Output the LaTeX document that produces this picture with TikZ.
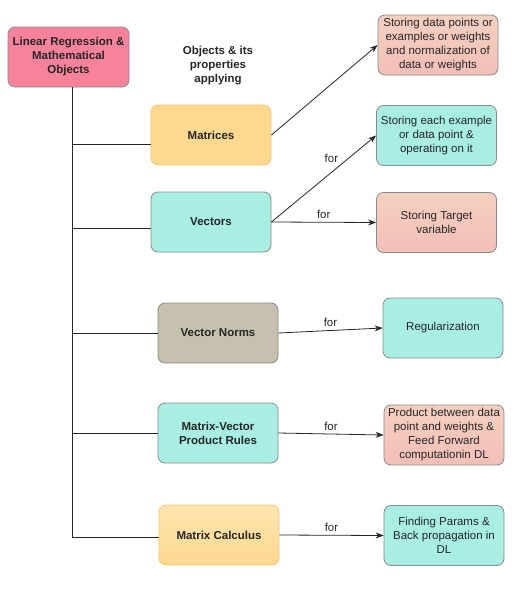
\documentclass[tikz,border=0pt]{standalone}
\usepackage{fontspec}
\setmainfont{Liberation Sans}
\usetikzlibrary{arrows.meta}
\definecolor{rosa}{HTML}{F7829B}
\definecolor{giallo}{HTML}{FDD98F}
\definecolor{ciano}{HTML}{A8EEE2}
\definecolor{pesca}{HTML}{F5D0BF}
\definecolor{pescabasso}{HTML}{F3BFB8}
\definecolor{grigio}{HTML}{C6C1AE}
\definecolor{bordo}{HTML}{8A8A8A}
\begin{document}
\begin{tikzpicture}[x=1pt,y=-1pt,
    box/.style={draw=bordo, line width=0.8pt, rounded corners=7pt, minimum width=120pt,
      minimum height=60pt, inner sep=1pt, align=center, text=black!85,
      font=\fontsize{11.5}{14}\selectfont},
    obj/.style={box, font=\fontsize{11.5}{14}\selectfont\bfseries},
    freccia/.style={-{Stealth[length=8pt,width=6pt]}, line width=0.8pt, black!85},
    ramo/.style={line width=0.8pt, black!85}]
      \useasboundingbox (0,0) rectangle (520,600);

      % Nodo radice e titolo
      \node[obj, fill=rosa, minimum width=121pt] (root) at (68.5,57) {Linear Regression \&\\Mathematical\\Objects};
      \node[font=\fontsize{11.5}{14}\selectfont\bfseries, align=center, text=black!85] (titolo) at (218,66) {Objects \& its\\properties\\applying};

      % Oggetti
      \node[obj, fill=giallo, draw=giallo!80!orange] (mat) at (211,135) {Matrices};
      \node[obj, fill=ciano] (vec) at (211,222) {Vectors};
      \node[obj, fill=grigio] (norm) at (218,333) {Vector Norms};
      \node[obj, fill=ciano] (mvp) at (218,433) {Matrix-Vector\\Product Rules};
      \node[obj, top color=giallo!70!white, bottom color=giallo, draw=giallo!80!orange] (calc) at (219,535) {Matrix Calculus};

      % Applicazioni
      \node[box, top color=pesca, bottom color=pescabasso] (dati) at (438,45) {Storing data points or\\examples or weights\\and normalization of\\data or weights};
      \node[box, fill=ciano] (esempio) at (436.5,135.5) {Storing each example\\or data point \&\\operating on it};
      \node[box, top color=pesca, bottom color=pescabasso] (target) at (436.5,222.5) {Storing Target\\variable};
      \node[box, fill=ciano] (reg) at (443,328) {Regularization};
      \node[box, top color=pesca, bottom color=pescabasso] (prod) at (444,435) {Product between data\\point and weights \&\\Feed Forward\\computationin DL};
      \node[box, fill=ciano] (back) at (444,535.5) {Finding Params \&\\Back propagation in\\DL};

      % Albero a sinistra
      \coordinate (cima) at ([xshift=3.5pt]root.south);
      \coordinate (fondo) at (cima |- 0,537);
      \draw[ramo] (cima) -- (fondo);
      \draw[ramo] (cima |- 0,144) -- (mat.west |- 0,144);
      \draw[ramo] (cima |- 0,228) -- (vec.west |- 0,228);
      \draw[ramo] (cima |- norm.west) -- (norm.west);
      \draw[ramo] (cima |- mvp.west) -- (mvp.west);
      \draw[ramo] (fondo) -- (calc.west |- fondo);

      % Frecce con etichetta
      \draw[freccia] (mat.east) -- (dati.west);
      \draw[freccia] (vec.east) -- (esempio.west) node[pos=0.66, above left, inner sep=2pt, font=\fontsize{11.5}{14}\selectfont] {for};
      \draw[freccia] (vec.east) -- (target.west) node[midway, above, font=\fontsize{11.5}{14}\selectfont] {for};
      \draw[freccia] (norm.east) -- (reg.west) node[midway, above, font=\fontsize{11.5}{14}\selectfont] {for};
      \draw[freccia] (mvp.east) -- (prod.west) node[midway, above, font=\fontsize{11.5}{14}\selectfont] {for};
      \draw[freccia] (calc.east) -- (back.west) node[midway, above, font=\fontsize{11.5}{14}\selectfont] {for};
    \end{tikzpicture}
\end{document}
